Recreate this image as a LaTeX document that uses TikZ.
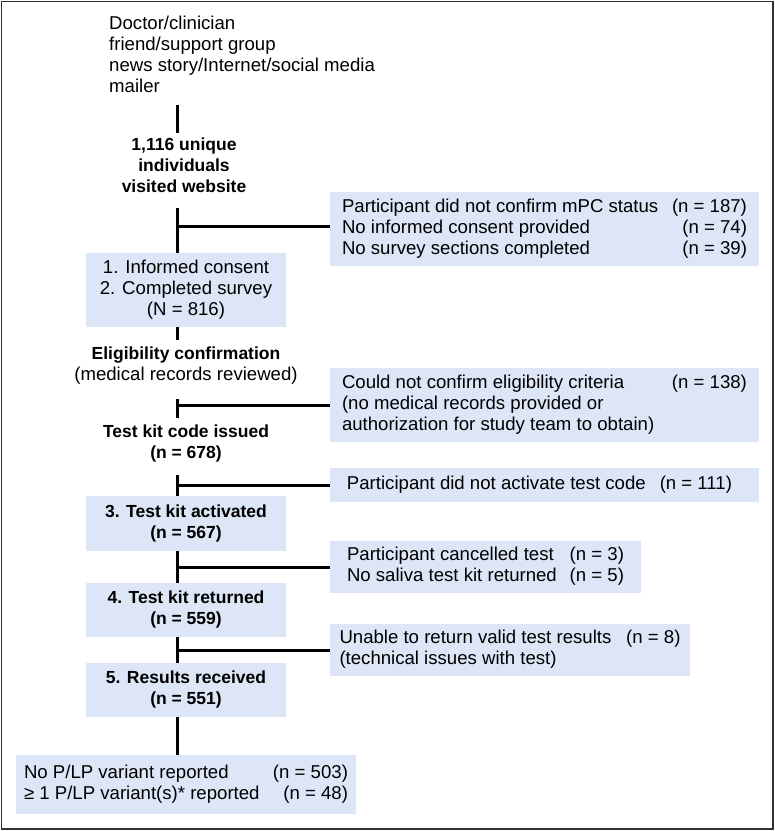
\documentclass[tikz,border=0pt]{standalone}
\usepackage{fontspec}
\setmainfont{Liberation Sans}
\usepackage{array}
\newcommand\regtxt{\fontsize{18.6pt}{21pt}\selectfont}
\newcommand\boldtxt{\fontsize{17.5pt}{21pt}\selectfont\bfseries}
\definecolor{boxblue}{RGB}{220,230,246}
\definecolor{framegray}{RGB}{50,50,50}
\begin{document}
\begin{tikzpicture}[x=1pt,y=-1pt,
  txt/.style={inner sep=0pt, font=\regtxt},
  btxt/.style={inner sep=0pt, font=\boldtxt},
  box/.style={fill=boxblue, inner sep=0pt},
  conn/.style={line width=3pt, draw=black},
  frame/.style={line width=1.3pt, draw=framegray}]
\useasboundingbox (0,0) rectangle (775,831);
\draw[frame] (1.5,1.5) rectangle (773,829);
\coordinate (ax) at (177,0);

% top sources
\node[txt, anchor=west] (src) at (109,57)
  {\begin{tabular}{@{}l@{}}Doctor/clinician\\ friend/support group\\ news story/Internet/social media\\ mailer\end{tabular}};

\node[btxt] (visit) at (184,167)
  {\begin{tabular}{@{}c@{}}1,116 unique\\ individuals\\ visited website\end{tabular}};

\node[box, font=\regtxt, minimum width=429pt, minimum height=74pt] (ex1) at (544.5,229)
  {\begin{tabular*}{405pt}{@{}l@{\extracolsep{\fill}}r@{}}
   Participant did not confirm mPC status & (n = 187)\\
   No informed consent provided & (n = 74)\\
   No survey sections completed & (n = 39)\end{tabular*}};
\coordinate (ex1in) at ([yshift=3pt]ex1.west);

\node[box, font=\regtxt, minimum width=200pt, minimum height=74pt] (b1) at (186,290)
  {\begin{tabular}{@{}c@{}}1. Informed consent\\ 2. Completed survey\\ (N = 816)\end{tabular}};

\node[txt] (elig) at (186,366)
  {\begin{tabular}{@{}c@{}}{\boldtxt Eligibility confirmation}\\ (medical records reviewed)\end{tabular}};

\node[box, font=\regtxt, minimum width=429pt, minimum height=74pt] (ex2) at (544.5,405)
  {\begin{tabular*}{405pt}{@{}l@{\extracolsep{\fill}}r@{}}
   Could not confirm eligibility criteria & (n = 138)\\
   (no medical records provided or & \\
   authorization for study team to obtain) & \end{tabular*}};

\node[btxt] (kit) at (186,444)
  {\begin{tabular}{@{}c@{}}Test kit code issued\\ (n = 678)\end{tabular}};

\node[box, font=\regtxt, minimum width=429pt, minimum height=34pt] (ex3) at (544.5,485)
  {\hspace*{-10pt}Participant did not activate test code\hspace{14pt}(n = 111)};

\node[box, font=\boldtxt, minimum width=200pt, minimum height=55pt] (b3) at (186,523.5)
  {\begin{tabular}{@{}c@{}}3. Test kit activated\\ (n = 567)\end{tabular}};

\node[box, font=\regtxt, minimum width=311pt, minimum height=52pt] (ex4) at (485.5,567)
  {\begin{tabular*}{277pt}{@{}l@{\extracolsep{\fill}}r@{}}
   Participant cancelled test & (n = 3)\\
   No saliva test kit returned & (n = 5)\end{tabular*}};

\node[box, font=\boldtxt, minimum width=200pt, minimum height=54pt] (b4) at (186,610)
  {\begin{tabular}{@{}c@{}}4. Test kit returned\\ (n = 559)\end{tabular}};

\node[box, font=\regtxt, minimum width=360pt, minimum height=52pt] (ex5) at (510,650)
  {\begin{tabular*}{341pt}{@{}l@{\extracolsep{\fill}}r@{}}
   Unable to return valid test results & (n = 8)\\
   (technical issues with test) & \end{tabular*}};

\node[box, font=\boldtxt, minimum width=200pt, minimum height=54pt] (b5) at (186,690)
  {\begin{tabular}{@{}c@{}}5. Results received\\ (n = 551)\end{tabular}};

\node[box, font=\regtxt, minimum width=340pt, minimum height=59pt] (bot) at (186,784.5)
  {\begin{tabular*}{324pt}{@{}l@{\extracolsep{\fill}}r@{}}
   No P/LP variant reported & (n = 503)\\
   ≥ 1 P/LP variant(s)* reported & (n = 48)\end{tabular*}};

% connectors
\draw[conn, shorten <=6pt, shorten >=2.5pt] (src.south -| ax) -- (visit.north -| ax);
\draw[conn, shorten <=9.5pt] (visit.south -| ax) -- (b1.north -| ax);
\draw[conn] (ax |- ex1in) -- (ex1in);
\draw[conn, shorten >=5pt] (b1.south -| ax) -- (elig.north -| ax);
\draw[conn, shorten <=12pt, shorten >=5pt] (elig.south -| ax) -- (kit.north -| ax);
\draw[conn] (ax |- ex2.west) -- (ex2.west);
\draw[conn, shorten <=10pt] (kit.south -| ax) -- (b3.north -| ax);
\draw[conn] (ax |- ex3.west) -- (ex3.west);
\draw[conn] (b3.south -| ax) -- (b4.north -| ax);
\draw[conn] (ax |- ex4.west) -- (ex4.west);
\draw[conn] (b4.south -| ax) -- (b5.north -| ax);
\draw[conn] (ax |- ex5.west) -- (ex5.west);
\draw[conn] (b5.south -| ax) -- (bot.north -| ax);
\end{tikzpicture}
\end{document}
